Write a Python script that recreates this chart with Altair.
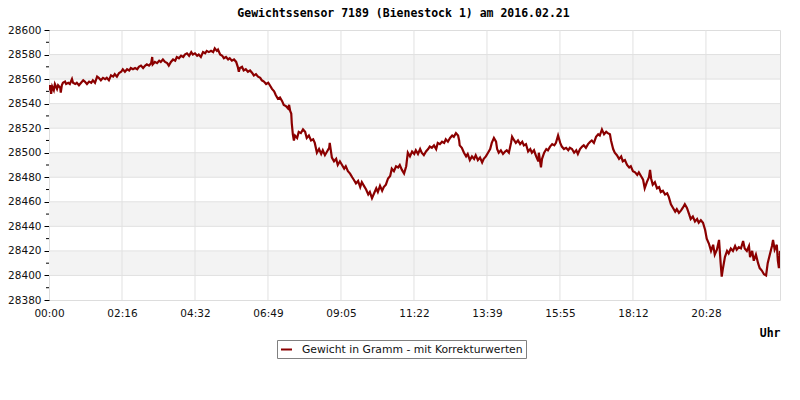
import json
import altair as alt
import pandas as pd

TITLE = "Gewichtssensor 7189 (Bienestock 1) am 2016.02.21"
SERIES = "Gewicht in Gramm - mit Korrekturwerten"
LINE_COLOR = "#8b0000"

# time of day in minutes since 00:00, weight in gram
tA = [0, 2, 4, 6, 9, 11, 15, 17, 21, 22, 24, 26, 30, 32, 36, 39, 43, 45, 49, 52, 56, 60, 64, 67, 71, 75, 79, 82, 86, 90,
      93, 97, 101, 105, 108, 112, 116, 120, 123, 127, 131, 135, 138, 142, 146, 150, 153, 157, 161, 165, 168, 172, 176,
      180, 183, 187, 191, 193, 194, 198, 202, 206, 209, 213, 217, 221, 224]
gA = [28551, 28555, 28548, 28554, 28551, 28556, 28552, 28555, 28553, 28549, 28555, 28557, 28558, 28556, 28557, 28556,
      28560, 28557, 28556, 28557, 28555, 28557, 28559, 28558, 28556, 28558, 28557, 28559, 28557, 28562, 28561, 28559,
      28561, 28560, 28561, 28559, 28563, 28562, 28564, 28562, 28565, 28566, 28568, 28566, 28568, 28567, 28569, 28568,
      28569, 28568, 28570, 28571, 28569, 28571, 28572, 28571, 28573, 28578, 28572, 28574, 28573, 28575, 28574, 28576,
      28574, 28573, 28571]

tB = [228, 232, 236, 239, 243, 247, 251, 254, 258, 262, 266, 269, 273, 277, 280, 284, 288, 292, 295, 299, 303, 307, 310,
      314, 316, 320, 324, 327, 331, 335, 338, 342, 346, 350, 353, 355, 357, 361, 364, 368, 372, 376, 380, 383, 387, 391,
      395, 398, 402, 406, 410, 413, 417, 421, 424, 428, 432, 436, 439, 443, 447, 449, 451, 453, 454, 456, 458]
gB = [28574, 28576, 28575, 28578, 28577, 28579, 28578, 28580, 28581, 28579, 28582, 28580, 28581, 28579, 28580, 28578,
      28582, 28581, 28583, 28582, 28583, 28582, 28585, 28583, 28584, 28580, 28579, 28577, 28578, 28576, 28577, 28575,
      28576, 28574, 28570, 28566, 28569, 28570, 28567, 28568, 28566, 28567, 28565, 28563, 28564, 28562, 28561, 28559,
      28558, 28556, 28557, 28555, 28552, 28550, 28547, 28544, 28545, 28542, 28539, 28538, 28536, 28539, 28534, 28532,
      28524, 28515, 28510]

tC = [460, 464, 467, 471, 475, 479, 482, 486, 490, 494, 497, 501, 505, 509, 512, 516, 520, 524, 525, 529, 533, 537, 540,
      544, 548, 552, 555, 559, 563, 567, 570, 574, 578, 582, 585, 589, 593, 597, 600, 604, 608, 612, 615, 619, 623, 626,
      630, 634, 638, 641, 645, 649, 653, 656, 660, 664, 668, 671, 675, 679, 683, 686, 690, 694, 697, 701, 705, 709, 712,
      716, 720, 724, 727, 731, 735, 739, 742, 746, 750, 754, 757, 761, 765, 767]
gC = [28514, 28512, 28517, 28516, 28519, 28517, 28512, 28514, 28510, 28511, 28508, 28500, 28503, 28499, 28502, 28498,
      28501, 28504, 28508, 28496, 28493, 28495, 28490, 28493, 28490, 28487, 28489, 28485, 28483, 28480, 28478, 28475,
      28477, 28472, 28476, 28473, 28470, 28466, 28468, 28463, 28467, 28471, 28468, 28473, 28469, 28472, 28474, 28479,
      28481, 28487, 28485, 28489, 28488, 28490, 28486, 28483, 28489, 28500, 28497, 28501, 28499, 28502, 28499, 28503,
      28500, 28498, 28501, 28503, 28505, 28504, 28506, 28503, 28508, 28507, 28509, 28508, 28511, 28509, 28512, 28514,
      28513, 28516, 28514, 28510]

tD = [768, 772, 776, 780, 783, 787, 791, 795, 798, 802, 806, 810, 813, 817, 821, 825, 828, 832, 836, 838, 841, 845, 849,
      853, 856, 860, 864, 866, 870, 873, 877, 881, 885, 888, 892, 896, 900, 903, 907, 911, 915, 916, 920, 922, 926, 930,
      933, 937, 941, 945, 948, 952, 956, 959, 963, 967, 971, 974, 978, 982, 986, 989, 993, 997, 1000, 1004, 1008, 1012,
      1015, 1019, 1023, 1027, 1030, 1034, 1038, 1042, 1045, 1049, 1051, 1055, 1058, 1062, 1066, 1070, 1073, 1077, 1081,
      1085, 1088, 1092, 1096, 1100, 1103, 1107, 1111, 1114, 1118, 1122, 1124]
gD = [28506, 28504, 28500, 28497, 28499, 28494, 28497, 28495, 28498, 28494, 28496, 28492, 28495, 28497, 28500, 28503,
      28508, 28512, 28509, 28503, 28500, 28502, 28499, 28501, 28502, 28500, 28508, 28513, 28510, 28508, 28510, 28507,
      28509, 28506, 28507, 28501, 28503, 28500, 28502, 28497, 28493, 28500, 28488, 28495, 28500, 28503, 28502, 28505,
      28507, 28506, 28508, 28514, 28508, 28505, 28503, 28504, 28502, 28504, 28503, 28500, 28502, 28499, 28503, 28505,
      28506, 28504, 28507, 28509, 28510, 28508, 28513, 28515, 28514, 28519, 28515, 28517, 28516, 28515, 28510, 28503,
      28500, 28498, 28495, 28497, 28493, 28494, 28490, 28488, 28489, 28485, 28484, 28482, 28484, 28481, 28478, 28471,
      28476, 28480, 28486]

tE = [1126, 1129, 1133, 1137, 1141, 1144, 1148, 1152, 1156, 1159, 1163, 1167, 1171, 1174, 1178, 1182, 1185, 1189, 1193,
      1197, 1200, 1204, 1208, 1212, 1215, 1219, 1223, 1227, 1230, 1234, 1238, 1242, 1245, 1249, 1253, 1256, 1258, 1260,
      1264, 1268, 1271, 1275, 1279, 1283, 1286, 1290, 1294, 1298, 1301, 1305, 1309, 1311, 1315, 1318, 1322, 1326, 1329,
      1333, 1337, 1341, 1344, 1348, 1352, 1354, 1357, 1361, 1363, 1365, 1367]
gE = [28479, 28474, 28476, 28471, 28472, 28468, 28469, 28466, 28467, 28464, 28458, 28455, 28452, 28454, 28451, 28453,
      28455, 28458, 28455, 28450, 28446, 28448, 28444, 28446, 28443, 28445, 28443, 28437, 28430, 28426, 28420, 28425,
      28417, 28421, 28429, 28410, 28399, 28405, 28415, 28420, 28418, 28422, 28420, 28424, 28421, 28423, 28422, 28428,
      28422, 28420, 28424, 28415, 28420, 28412, 28417, 28410, 28406, 28404, 28401, 28400, 28410, 28417, 28424, 28429,
      28421, 28425, 28412, 28406, 28420]

tick_minutes = [0, 136.5, 273, 409.5, 546, 682.5, 819, 955.5, 1092, 1228.5]
tick_labels = ["00:00", "02:16", "04:32", "06:49", "09:05", "11:22", "13:39", "15:55", "18:12", "20:28"]
y_ticks = [28380, 28400, 28420, 28440, 28460, 28480, 28500, 28520, 28540, 28560, 28580, 28600]
y_minor = [28390, 28410, 28430, 28450, 28470, 28490, 28510, 28530, 28550, 28570, 28590]
band_lo = [28400, 28440, 28480, 28520, 28560]
band_hi = [28420, 28460, 28500, 28540, 28580]

minutes = tA + tB + tC + tD + tE
grams = gA + gB + gC + gD + gE
df = pd.DataFrame({"t": minutes, "g": grams, "s": SERIES})

W, H = 731, 270
x_scale = alt.Scale(domain=[0, 1367], nice=False, zero=False)
y_scale = alt.Scale(domain=[28380, 28600], nice=False, zero=False)

label_expr = json.dumps(tick_labels) + "[round(datum.value / 136.5)]"

x_axis = alt.Axis(
    values=tick_minutes, labelExpr=label_expr, tickSize=0, labelPadding=8, grid=False, domain=False,
    labelFlush=False, labelOverlap=False, labelFont="DejaVu Sans", labelFontSize=10.5, labelColor="#111",
    title="Uhr", titleX=W, titleY=36, titleAlign="right", titleBaseline="alphabetic", titleAnchor="end",
    titleFont="DejaVu Sans Mono", titleFontSize=11.5, titleFontWeight="bold", titleColor="#000")
y_axis = alt.Axis(
    values=y_ticks, format="d", tickSize=5, tickColor="black", labelPadding=3, grid=False, domain=False,
    labelFlush=False, labelOverlap=False, labelFont="DejaVu Sans", labelFontSize=10.5, labelColor="#111",
    title=None)

bands = alt.Chart(pd.DataFrame({"lo": band_lo, "hi": band_hi})).mark_rect(color="#f3f3f3").encode(
    y=alt.Y("lo:Q", scale=y_scale, axis=y_axis), y2="hi:Q",
    x=alt.value(0), x2=alt.value(W))

hgrid = alt.Chart(pd.DataFrame({"v": y_ticks[1:-1]})).mark_rule(color="#e1e1e1", strokeWidth=1).encode(
    y=alt.Y("v:Q", scale=y_scale, axis=y_axis), x=alt.value(0), x2=alt.value(W))

vgrid = alt.Chart(pd.DataFrame({"v": tick_minutes[1:]})).mark_rule(color="#e1e1e1", strokeWidth=1).encode(
    x=alt.X("v:Q", scale=x_scale, axis=x_axis), y=alt.value(0), y2=alt.value(H))

minor = alt.Chart(pd.DataFrame({"v": y_minor})).mark_rule(color="black", strokeWidth=1).encode(
    y=alt.Y("v:Q", scale=y_scale, axis=y_axis), x=alt.value(-3), x2=alt.value(0))

line = alt.Chart(df).mark_line(strokeWidth=2.2, clip=True).encode(
    x=alt.X("t:Q", scale=x_scale, axis=x_axis),
    y=alt.Y("g:Q", scale=y_scale, axis=y_axis),
    color=alt.Color("s:N", scale=alt.Scale(domain=[SERIES], range=[LINE_COLOR]), legend=alt.Legend(
        title=None, orient="none", legendX=228, legendY=310, symbolType="stroke", symbolSize=121,
        symbolStrokeWidth=2, labelFont="DejaVu Sans", labelFontSize=10.8, labelColor="#111", labelOffset=9,
        labelLimit=0, strokeColor="#808080", fillColor="white", padding=3, cornerRadius=0)),
)

title = alt.Chart(pd.DataFrame({"s": [TITLE]})).mark_text(
    font="DejaVu Sans Mono", fontSize=11.5, fontWeight="bold", color="#000",
    align="center", baseline="alphabetic").encode(
    text="s:N", x=alt.value(W / 2 - 11), y=alt.value(-13))

chart = alt.layer(bands, hgrid, vgrid, minor, line, title).properties(
    width=W, height=H,
    autosize=alt.AutoSizeParams(type="none"),
    padding={"left": 41, "top": 22, "right": 12, "bottom": 92},
).configure_view(stroke="black", strokeWidth=1).configure(background="white")

chart.save("out.html", embed_options={"renderer": "svg", "actions": False})
